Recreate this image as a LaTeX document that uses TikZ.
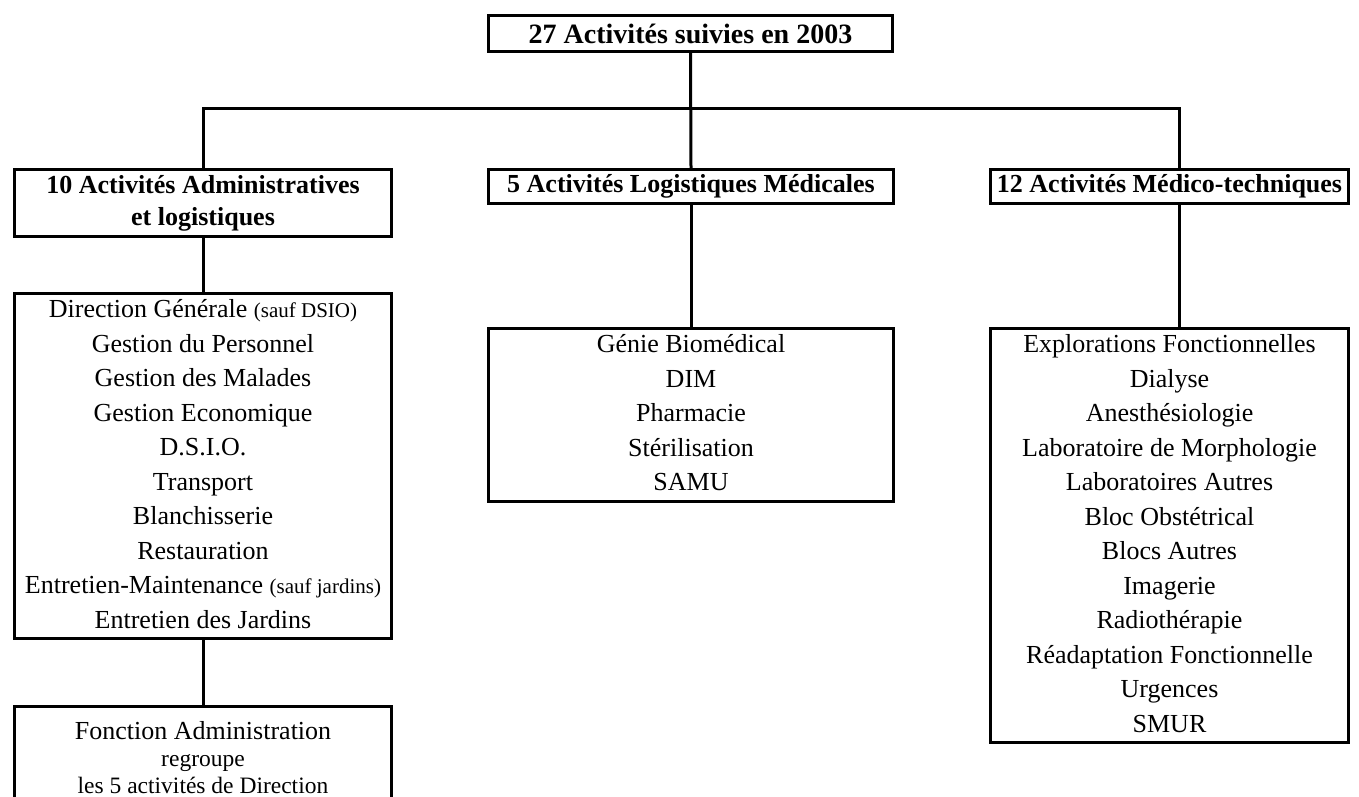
\documentclass[tikz,border=0pt]{standalone}
\usepackage{fontspec}
\setmainfont{Liberation Serif}
\newcommand\smtxt[1]{{\fontsize{21}{21}\selectfont #1}}
\begin{document}
\begin{tikzpicture}[x=1pt,y=-1pt,
  box/.style={draw, line width=3pt, inner sep=0pt, align=center, anchor=north west},
  toptxt/.style={font=\fontsize{28}{34}\selectfont\bfseries},
  head/.style={font=\fontsize{26}{32}\selectfont\bfseries},
  body/.style={font=\fontsize{26}{34.5}\selectfont},
  note/.style={font=\fontsize{23.5}{27}\selectfont},
  conn/.style={line width=3pt}]
\useasboundingbox (0,0) rectangle (1359,797);
\clip (0,0) rectangle (1359,797);

\node[box, toptxt, minimum width=404pt, minimum height=36pt] (top) at (487,14) {27 Activités suivies en 2003};

\node[box, head, minimum width=377pt, minimum height=67pt] (L1) at (13,168)
  {\strut 10 Activités Administratives\\ et logistiques\strut};
\node[box, head, minimum width=405pt, minimum height=34pt] (M1) at (487,168)
  {5 Activités Logistiques Médicales};
\node[box, head, minimum width=358pt, minimum height=34pt] (R1) at (989,168)
  {12 Activités Médico-techniques};

\node[box, body, minimum width=377pt, minimum height=345pt] (L2) at (13,292)
  {\strut Direction Générale \smtxt{(sauf DSIO)}\\
   Gestion du Personnel\\
   Gestion des Malades\\
   Gestion Economique\\
   D.S.I.O.\\
   Transport\\
   Blanchisserie\\
   Restauration\\
   Entretien-Maintenance \smtxt{(sauf jardins)}\\
   Entretien des Jardins\strut};

\node[box, note, minimum width=377pt, minimum height=110pt] (L3) at (13,705)
  {\strut{\fontsize{26}{27}\selectfont Fonction Administration}\\
   regroupe\\
   les 5 activités de Direction\strut};

\node[box, body, minimum width=405pt, minimum height=172pt] (M2) at (487,327)
  {\strut Génie Biomédical\\
   DIM\\
   Pharmacie\\
   Stérilisation\\
   SAMU\strut};

\node[box, body, minimum width=358pt, minimum height=414pt] (R2) at (989,327)
  {\strut Explorations Fonctionnelles\\
   Dialyse\\
   Anesthésiologie\\
   Laboratoire de Morphologie\\
   Laboratoires Autres\\
   Bloc Obstétrical\\
   Blocs Autres\\
   Imagerie\\
   Radiothérapie\\
   Réadaptation Fonctionnelle\\
   Urgences\\
   SMUR\strut};

\coordinate (bus) at (0,109);
\coordinate (r1c) at ([xshift=10pt]R1.north);
\coordinate (r2c) at ([xshift=10pt]R2.north);

\draw[conn] (top.south) -- (M1.north);
\draw[conn] (L1.north) -- (L1.north |- bus) -- (r1c |- bus) -- (r1c);
\draw[conn] (L1.south) -- (L2.north);
\draw[conn] (L2.south) -- (L3.north);
\draw[conn] (M1.south) -- (M2.north);
\draw[conn] (r1c |- R1.south) -- (r2c);
\end{tikzpicture}
\end{document}
